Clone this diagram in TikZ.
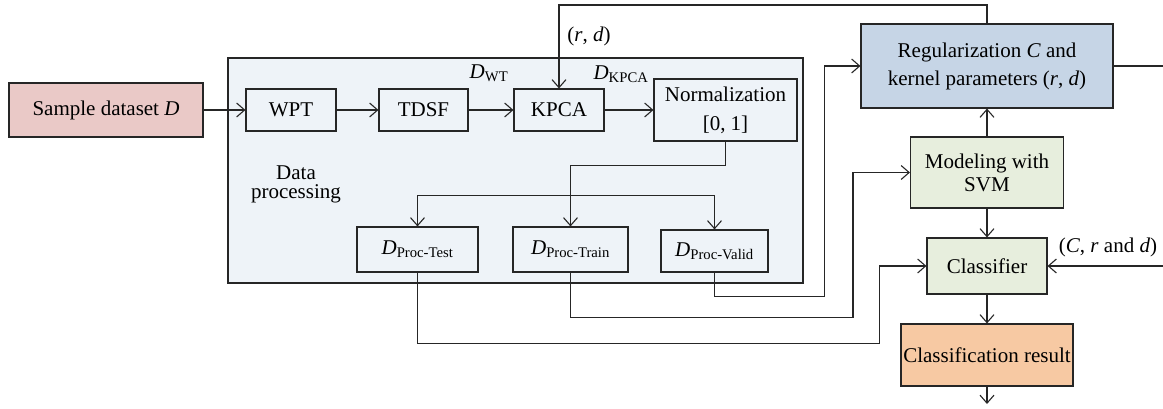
\documentclass[tikz,border=0pt]{standalone}
\usepackage{fontspec}
\setmainfont{Liberation Serif}
\usetikzlibrary{arrows.meta,calc}
\definecolor{linec}{HTML}{262626}
\definecolor{cpink}{HTML}{EAC9C7}
\definecolor{cbg}{HTML}{EEF3F8}
\definecolor{cblue}{HTML}{C6D5E6}
\definecolor{cgreen}{HTML}{E7EEDD}
\definecolor{corange}{HTML}{F7C9A3}
\begin{document}
\begin{tikzpicture}[x=1pt,y=-1pt,
  every node/.style={font=\fontsize{21}{25}\selectfont},
  box/.style={draw=linec, line width=1.1pt, inner sep=0pt, align=center},
  arr/.style={draw=linec, line width=1.1pt, -{Straight Barb[length=8pt,width=14pt]}},
  ln/.style={draw=linec, line width=1.1pt}]
\useasboundingbox (0,0) rectangle (1163,409);
% big data-processing box
\node[box, fill=cbg, minimum width=575pt, minimum height=225pt] (dp) at (515.5,170.5) {};
\node[align=center, font=\fontsize{21}{19}\selectfont] (dplabel) at (296,184) {Data\\processing};
% nodes
\node[box, fill=cpink, minimum width=194pt, minimum height=54pt] (sample) at (106,110) {Sample dataset \textit{D}};
\node[box, minimum width=90pt, minimum height=42pt] (wpt) at (291,110) {WPT};
\node[box, minimum width=89pt, minimum height=42pt] (tdsf) at (423.5,110) {TDSF};
\node[box, minimum width=90pt, minimum height=42pt] (kpca) at (559,110) {KPCA};
\node[box, minimum width=143pt, minimum height=62pt] (norm) at (725.5,110) {Normalization\\[4pt]{[0, 1]}};
\node[box, minimum width=121pt, minimum height=45pt] (test) at (417.5,249.5) {\textit{D}\textsubscript{Proc-Test}};
\node[box, minimum width=115pt, minimum height=45pt] (train) at (570.5,249.5) {\textit{D}\textsubscript{Proc-Train}};
\node[box, minimum width=107pt, minimum height=42pt] (valid) at (714.5,251) {\textit{D}\textsubscript{Proc-Valid}};
\node[box, fill=cblue, minimum width=252pt, minimum height=84pt] (reg) at (987,66) {Regularization \textit{C} and\\[3pt]kernel parameters (\textit{r}, \textit{d})};
\node[box, fill=cgreen, minimum width=153pt, minimum height=71pt] (svm) at (987,172.5) {Modeling with\\[-2pt]SVM};
\node[box, fill=cgreen, minimum width=120pt, minimum height=56pt] (cls) at (987,266) {Classifier};
\node[box, fill=corange, minimum width=172pt, minimum height=62pt] (res) at (987,355) {Classification result};
% labels
\node (dwt) at (489,73) {\textit{D}\textsubscript{WT}};
\node (dkpca) at (621,74) {\textit{D}\textsubscript{KPCA}};
\node (rd) at (589,36) {(\textit{r}, \textit{d})};
\node (crd) at (1108,247) {(\textit{C}, \textit{r} and \textit{d})};
% coordinates
\coordinate (top) at (0,5);
\coordinate (sp) at ($(train.north)+(0,-31)$);
\coordinate (out) at (987,404);
\coordinate (rout) at (1163,66);
\coordinate (rin) at (1163,266);
% connectors
\draw[arr] (sample.east) -- (wpt.west);
\draw[arr] (wpt.east) -- (tdsf.west);
\draw[arr] (tdsf.east) -- (kpca.west);
\draw[arr] (kpca.east) -- (norm.west);
\draw[arr] (reg.north) -- (reg.north |- top) -| (kpca.north);
\draw[arr] (norm.south) -- ++(0,24) -| (train.north);
\draw[arr] (sp) -| (test.north);
\draw[arr] (sp) -| (valid.north);
\draw[arr] (valid.south) -- ++(0,24) -| ($(reg.west)+(-36,0)$) -- (reg.west);
\draw[arr] (train.south) -- ++(0,45) -| ($(svm.west)+(-57,0)$) -- (svm.west);
\draw[arr] (test.south) -- ++(0,71) -| ($(cls.west)+(-47,0)$) -- (cls.west);
\draw[arr] (svm.north) -- (reg.south);
\draw[arr] (svm.south) -- (cls.north);
\draw[arr] (cls.south) -- (res.north);
\draw[arr] (res.south) -- (out);
\draw[ln] (reg.east) -- (rout);
\draw[arr] (rin) -- (cls.east);
\end{tikzpicture}
\end{document}
